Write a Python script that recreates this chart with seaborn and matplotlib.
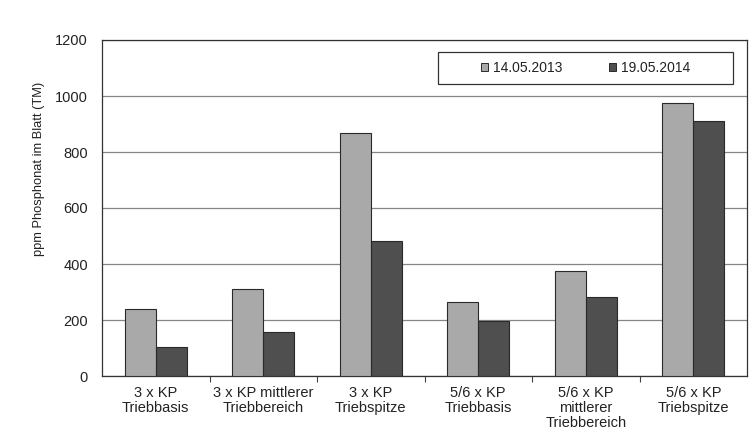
import matplotlib
matplotlib.use("Agg")
import matplotlib.pyplot as plt
import seaborn as sns
import pandas as pd
from matplotlib.patches import Patch, Rectangle
from matplotlib.ticker import FixedLocator

categories = [
    "3 x KP\nTriebbasis",
    "3 x KP mittlerer\nTriebbereich",
    "3 x KP\nTriebspitze",
    "5/6 x KP\nTriebbasis",
    "5/6 x KP\nmittlerer\nTriebbereich",
    "5/6 x KP\nTriebspitze",
]
dates = ["14.05.2013", "19.05.2014"]
values_2013 = [238, 312, 868, 266, 375, 975]
values_2014 = [102, 157, 483, 198, 282, 910]
y_ticks = [0, 200, 400, 600, 800, 1000, 1200]
y_label = "ppm Phosphonat im Blatt (TM)"

df = pd.DataFrame({
    "Kategorie": categories * 2,
    "Datum": [dates[0]] * len(categories) + [dates[1]] * len(categories),
    "Wert": values_2013 + values_2014,
})

sns.set_theme(style="white")
plt.rcParams["font.family"] = ["Liberation Sans", "DejaVu Sans"]

colors = {dates[0]: "#a9a9a9", dates[1]: "#4f4f4f"}
ink = "#222222"

W, H = 756, 434
fig = plt.figure(figsize=(W / 100, H / 100), dpi=100)
ax = fig.add_axes([102 / W, 1 - 376 / H, 645 / W, 336 / H])

sns.barplot(data=df, x="Kategorie", y="Wert", hue="Datum", order=categories,
            hue_order=dates, palette=colors, width=0.575, saturation=1,
            edgecolor="#2a2a2a", linewidth=0.8, ax=ax, legend=False, zorder=3)

ax.set_ylim(0, 1200)
ax.set_xlim(-0.5, len(categories) - 0.5)
ax.set_yticks(y_ticks)
ax.set_yticklabels([str(t) for t in y_ticks], fontsize=10.5, color=ink)
ax.yaxis.grid(True, color="#858585", linewidth=0.9, zorder=0)
ax.set_axisbelow(True)

ax.set_xlabel("")
ax.set_xticks(range(len(categories)))
ax.set_xticklabels(categories, fontsize=10.5, color=ink, linespacing=1.12)
ax.set_ylabel(y_label, fontsize=9.3, color=ink)
ax.yaxis.set_label_coords(-0.088, 0.615)
ax.tick_params(axis="x", which="major", length=0, pad=7)
ax.tick_params(axis="y", which="major", length=4, width=0.8, color="#444444",
               direction="out", pad=6)
ax.xaxis.set_minor_locator(FixedLocator([i + 0.5 for i in range(len(categories) - 1)]))
ax.tick_params(axis="x", which="minor", length=4, width=0.8, color="#444444",
               direction="out", bottom=True)

for spine in ax.spines.values():
    spine.set_visible(True)
    spine.set_color("#333333")
    spine.set_linewidth(0.9)

# legend box drawn as a figure-level frame, entries placed inside it
fig.patches.append(Rectangle((438 / W, 1 - 84 / H), 295 / W, 32 / H,
                             transform=fig.transFigure, facecolor="white",
                             edgecolor="#333333", linewidth=0.9, zorder=5))
handles = [Patch(facecolor=colors[d], edgecolor="#2a2a2a", linewidth=0.7) for d in dates]
leg = fig.legend(handles, dates, loc="center left",
                 bbox_to_anchor=(481 / W, 1 - 68 / H), bbox_transform=fig.transFigure,
                 ncol=2, frameon=False, fontsize=10, handlelength=0.5, handleheight=0.5,
                 handletextpad=0.35, columnspacing=3.4, borderpad=0, borderaxespad=0)
leg.set_zorder(6)
for t in leg.get_texts():
    t.set_color(ink)

fig.savefig("out.png", dpi=100, facecolor="white")
